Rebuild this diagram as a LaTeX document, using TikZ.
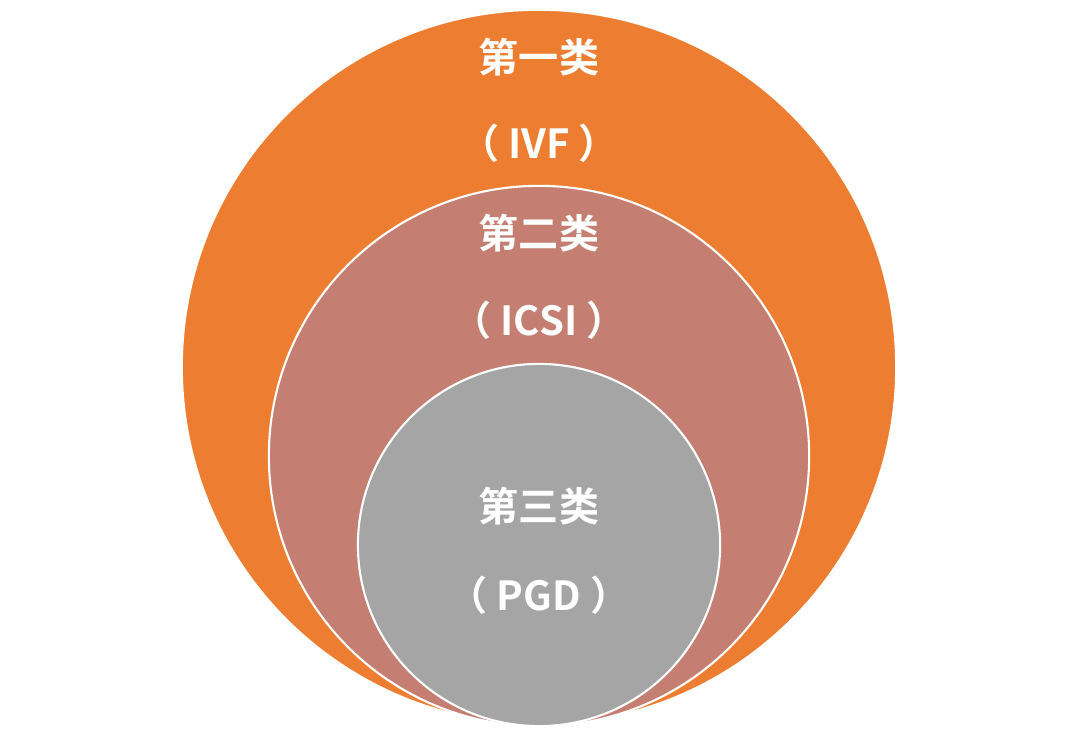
\documentclass[tikz,border=0pt]{standalone}
\usepackage{fontspec}
\newfontfamily\cjk{Noto Sans CJK SC Bold}
\usepackage{tikz}

\definecolor{ivforange}{RGB}{237,125,49}
\definecolor{icsirose}{RGB}{196,127,114}
\definecolor{pgdgray}{RGB}{165,165,165}

\begin{document}
\begin{tikzpicture}[x=0.01cm, y=-0.01cm,
  ring/.style = {circle, draw = white, line width = 0.6pt, inner sep = 0pt},
  label/.style = {text = white, font = \cjk\fontsize{11.4}{13}\selectfont, inner sep = 0pt}]
\useasboundingbox (0,0) rectangle (1080,728);
% nested circles, all touching at the bottom
\node[ring, fill = ivforange, minimum size = 7.14cm] (outer) at (539,367) {};
\node[ring, fill = icsirose, minimum size = 5.40cm] (middle) at (539,456) {};
\node[ring, fill = pgdgray, minimum size = 3.62cm] (inner) at (539,545) {};
% labels
\node[label] (ivf) at (539,57) {第一类};
\node[label] (ivfname) at (539,143) {（ IVF ）};
\node[label] (icsi) at (539,233) {第二类};
\node[label] (icsiname) at (539,320) {（ ICSI ）};
\node[label] (pgd) at (539,506) {第三类};
\node[label] (pgdname) at (539,595) {（ PGD ）};
\end{tikzpicture}
\end{document}
